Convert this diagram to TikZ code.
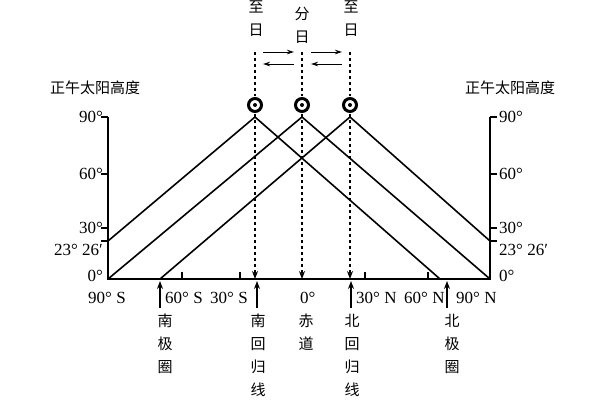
\documentclass[tikz,border=0pt]{standalone}
\usepackage{fontspec}
\newfontfamily\cjk{Noto Sans CJK SC}
\setmainfont{Liberation Serif}
\usetikzlibrary{arrows.meta}
\begin{document}
\begin{tikzpicture}[x=1pt,y=-1pt,
  txt/.style={font=\fontsize{17}{18}\selectfont,inner sep=0pt},
  ck/.style={font=\cjk\fontsize{15}{23}\selectfont,align=center,inner sep=0pt},
  ln/.style={line width=1.6pt},
  dsh/.style={dashed,line width=1.3pt,-{Stealth[length=8pt,width=6pt]}},
  up/.style={line width=1.2pt,-{Stealth[length=8pt,width=6pt]}},
  sm/.style={line width=1pt,-{Stealth[length=7pt,width=4.5pt]}}]
\useasboundingbox (0,0) rectangle (600,400);
% axes
\draw[ln] (108,117) -- (108,279) -- (490,279) -- (490,117);
\foreach \y in {117,174,228,241}{
  \draw[ln] (108,\y) -- (101,\y);
  \draw[ln] (490,\y) -- (497,\y);}
\foreach \x in {182,240,365,428}{\draw[ln] (\x,279) -- (\x,272);}
% left labels
\node[txt,anchor=east] (l90) at (103,117) {90°};
\node[txt,anchor=east] (l60) at (103,174) {60°};
\node[txt,anchor=east] (l30) at (103,228) {30°};
\node[txt,anchor=east] (l23) at (103,250) {23° 26′};
\node[txt,anchor=east] (l0) at (103,276) {0°};
\node[txt,anchor=west] (r90) at (499,117) {90°};
\node[txt,anchor=west] (r60) at (499,174) {60°};
\node[txt,anchor=west] (r30) at (499,228) {30°};
\node[txt,anchor=west] (r23) at (499,250) {23° 26′};
\node[txt,anchor=west] (r0) at (499,276) {0°};
\node[ck] (tl) at (95,88) {正午太阳高度};
\node[ck] (tr) at (510,88) {正午太阳高度};
% sun lines
\coordinate (p1) at (255,117); \coordinate (p2) at (302,117); \coordinate (p3) at (350,117);
\draw[ln] (108,241) -- (p1) -- (440,279);
\draw[ln] (108,279) -- (p2) -- (490,279);
\draw[ln] (160,279) -- (p3) -- (490,241);
% dashed verticals and circles
\foreach \x/\n in {255/a,302/b,350/c}{
  \draw[dashed,line width=1.3pt] (\x,52) -- (\x,96);
  \draw[dsh] (\x,114) -- (\x,279);
  \draw[line width=3pt,fill=white] (\x,105) circle (6.5);
  \fill (\x,105) circle (2);}
% top labels
\node[ck] (z1) at (256,19) {至\\日};
\node[ck] (f) at (302,25) {分\\日};
\node[ck] (z2) at (351,19) {至\\日};
\draw[sm] (263,52) -- (294,52);
\draw[sm] (294,64) -- (263,64);
\draw[sm] (311,52) -- (342,52);
\draw[sm] (342,64) -- (311,64);
% bottom labels
\node[txt,anchor=west] (b1) at (88,298) {90° S};
\node[txt,anchor=west] (b2) at (165,298) {60° S};
\node[txt,anchor=west] (b3) at (210,298) {30° S};
\node[txt,anchor=west] (b4) at (300,298) {0°};
\node[txt,anchor=west] (b5) at (356,298) {30° N};
\node[txt,anchor=west] (b6) at (404,298) {60° N};
\node[txt,anchor=west] (b7) at (456,298) {90° N};
\foreach \x in {160,257,351,447}{\draw[up] (\x,308) -- (\x,281);}
\node[ck,anchor=north] (n1) at (165,314) {南\\极\\圈};
\node[ck,anchor=north] (n2) at (258,314) {南\\回\\归\\线};
\node[ck,anchor=north] (n3) at (306,314) {赤\\道};
\node[ck,anchor=north] (n4) at (352,314) {北\\回\\归\\线};
\node[ck,anchor=north] (n5) at (452,314) {北\\极\\圈};
\end{tikzpicture}
\end{document}
